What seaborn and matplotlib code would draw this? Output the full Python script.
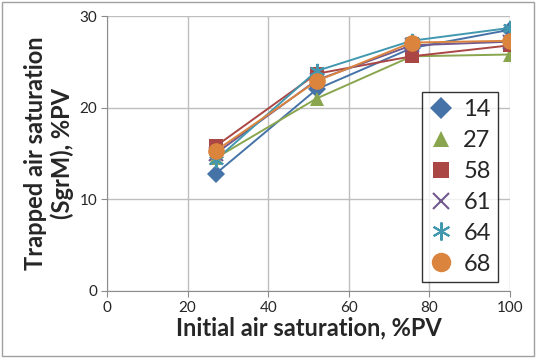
import matplotlib
matplotlib.use("Agg")
import matplotlib.pyplot as plt
import seaborn as sns
import pandas as pd
from matplotlib.lines import Line2D
from matplotlib.patches import Rectangle

x_vals = [27, 52, 75.6, 100]
s14 = [12.8, 22.0, 26.5, 28.5]
s27 = [14.5, 21.0, 25.6, 25.8]
s58 = [15.8, 23.7, 25.6, 26.8]
s61 = [15.0, 23.0, 26.8, 27.2]
s64 = [14.3, 24.0, 27.3, 28.7]
s68 = [15.3, 22.9, 27.1, 27.3]
labels = ["14", "27", "58", "61", "64", "68"]
series = [s14, s27, s58, s61, s64, s68]

colors = ["#4572A7", "#89A54E", "#AA4643", "#71588F", "#4198AF", "#DB843D"]
markers = ["D", "^", "s", "x", (6, 2, 0), "o"]
msizes = [9, 10, 10, 10, 11, 12]

sns.set_style("white")
plt.rcParams['font.family'] = ['Lato', 'DejaVu Sans']

fig = plt.figure(figsize=(5.37, 3.58), dpi=100)
ax = fig.add_axes([107/537, 1-291/358, (510-107)/537, (291-16)/358])

for lab, ys, c, m, ms in zip(labels, series, colors, markers, msizes):
    df = pd.DataFrame({"x": x_vals, "y": ys})
    kw = dict(markeredgecolor=c, markeredgewidth=1.5 if m in ("x", (6, 2, 0)) else 0)
    sns.lineplot(data=df, x="x", y="y", ax=ax, color=c, marker=m, markersize=ms,
                 linewidth=1.4, legend=False, **kw)

ax.set_xlim(0, 100)
ax.set_ylim(0, 30)
ax.set_xticks([0, 20, 40, 60, 80, 100])
ax.set_yticks([0, 10, 20, 30])
ax.grid(True, color="#BEBEBE", linewidth=1)
ax.set_axisbelow(True)
for s in ["top", "right"]:
    ax.spines[s].set_visible(False)
for s in ["left", "bottom"]:
    ax.spines[s].set_color("#8C8C8C")
ax.tick_params(axis="both", labelsize=11, length=4, color="#8C8C8C", direction="out",
               left=True, bottom=True, pad=3)
ax.set_xlabel("Initial air saturation, %PV", fontsize=17, fontweight="bold", labelpad=1)
ax.set_ylabel("Trapped air saturation\n(SgrM), %PV", fontsize=17, fontweight="bold",
              labelpad=4, linespacing=1.15)

handles = []
for lab, c, m, ms in zip(labels, colors, markers, msizes):
    handles.append(Line2D([], [], linestyle="none", marker=m, color=c, markersize=ms + 2,
                          markeredgecolor=c,
                          markeredgewidth=1.5 if m in ("x", (6, 2, 0)) else 0, label=lab))
leg = ax.legend(handles=handles, loc="upper left", bbox_to_anchor=((422-107)/403, (291-92)/275),
                borderaxespad=0, fontsize=17, frameon=True, fancybox=False, handlelength=1.0,
                handletextpad=0.45, labelspacing=0.42, borderpad=0.3)
leg.get_frame().set_edgecolor("#000000")
leg.get_frame().set_linewidth(1)

fig.patches.append(Rectangle((0.004, 0.005), 0.99, 0.99, transform=fig.transFigure,
                             fill=False, edgecolor="#A0A0A0", linewidth=1))

fig.savefig("out.png", dpi=100)
